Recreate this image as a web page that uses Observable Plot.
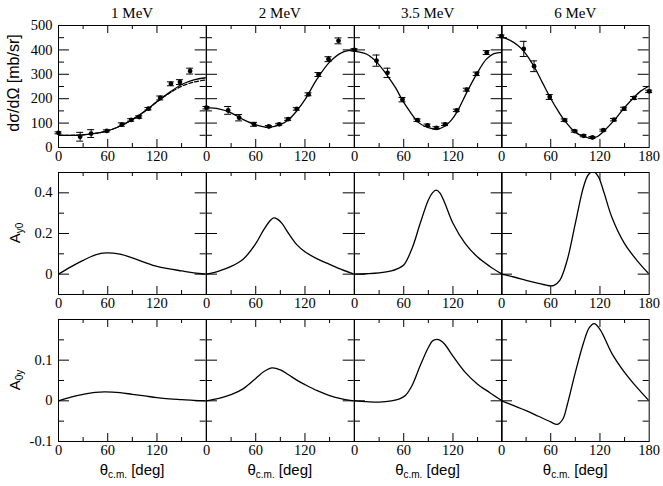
<!DOCTYPE html>
<html>
<head>
<meta charset="utf-8">
<script src="https://cdn.jsdelivr.net/npm/d3@7"></script>
<script src="https://cdn.jsdelivr.net/npm/@observablehq/plot@0.6"></script>
<style>
  html, body { margin: 0; padding: 0; background: white; }
  #chart { position: relative; width: 663px; height: 486px; background: white; overflow: hidden; }
  .lbl { position: absolute; white-space: nowrap; color: black; }
  .title { font-family: "Liberation Serif", serif; font-size: 15px; transform: translate(-50%, -50%); }
  .ylab { font-family: "Liberation Sans", sans-serif; font-size: 15px; transform: translate(-50%, -50%) rotate(-90deg); }
  .ylab.big { font-size: 16px; }
  .xlab { font-family: "Liberation Sans", sans-serif; font-size: 15px; transform: translate(-50%, -50%); }
  sub { font-size: 10px; vertical-align: -3px; line-height: 0; }
</style>
</head>
<body>
<div id="chart"></div>
<script>
// ---------- data ----------
const energies = ["1 MeV", "2 MeV", "3.5 MeV", "6 MeV"];
const rowLabels = ["dσ/dΩ [mb/sr]", "A<sub>y0</sub>", "A<sub>0y</sub>"];
const xLabel = "θ<sub>c.m.</sub> [deg]";

// y domains and ticks per row
const rowDomains = [[0, 500], [-0.1, 0.5], [-0.1, 0.2]];
const rowTickLabels = [[0, 100, 200, 300, 400, 500], [0, 0.2, 0.4], [-0.1, 0, 0.1]];
const rowMajorTicks = [[100, 200, 300, 400], [0, 0.2, 0.4], [0, 0.1]];
const rowMinorTicks = [[50, 150, 250, 350, 450], [0.1, 0.3], [-0.05, 0.05, 0.15]];
const xMajorTicks = [60, 120];
const xMinorTicks = [30, 90, 150];
const xTickLabels = [0, 60, 120];
const xTickLabelsLast = [0, 60, 120, 180];

// measured cross sections: angle, value, error
const xsAngles = [
  [0, 26.4, 39.8, 58.9, 77.2, 88.6, 98.4, 109.7, 124, 137, 148, 160.4],
  [0, 26.4, 39.8, 58, 76, 88.6, 99.5, 110, 124.3, 136.5, 148.7, 160.9],
  [0, 26.8, 40.2, 58.5, 76.8, 89, 99.9, 110.4, 124.7, 136.9, 149, 161.2],
  [0, 27.1, 39.7, 58.8, 77, 89.3, 100.2, 110.8, 124.2, 137.2, 149.4, 161.6, 180]
];
const xsValues = [
  [60, 44, 57, 68, 94, 113, 125, 159, 203, 261, 268, 313],
  [163, 152, 122, 95, 86, 95, 116, 158, 218, 299, 362, 437],
  [400, 356, 306, 196, 112, 91, 80, 95, 152, 237, 302, 389],
  [456, 404, 333, 207, 112, 67, 48, 41, 71, 114, 159, 203, 230]
];
const xsErrors = [
  [4, 18, 16, 4, 7, 5, 5, 5, 8, 8, 10, 12],
  [5, 16, 13, 8, 4, 4, 5, 5, 6, 8, 10, 12],
  [5, 23, 19, 9, 5, 5, 5, 5, 5, 6, 7, 8],
  [5, 31, 22, 10, 5, 4, 4, 4, 4, 5, 6, 6, 5]
];

// calculated cross sections (solid)
const xsCurves = [
  [[0,50],[15,50],[30,52],[45,58],[60,68],[75,88],[90,114],[105,148],[120,188],[135,225],[150,258],[165,277],[180,286]],
  [[0,163],[15,158],[30,142],[45,114],[60,93],[75,83],[90,94],[100,114],[110,150],[120,196],[135,282],[150,350],[165,389],[180,400]],
  [[0,395],[15,382],[27,350],[40,295],[50,245],[58.5,193],[68,145],[77,105],[89,82],[100,75],[110,87],[118,112],[125,146],[137,227],[149,302],[161,363],[170,385],[180,390]],
  [[0,452],[10,440],[20,418],[27,395],[40,330],[50,265],[59,207],[68,155],[77,110],[89,65],[100,45],[110,38],[117,45],[124,65],[137,110],[149,160],[162,207],[170,232],[180,252]]
];
// second calculation (dashed), 1 MeV
const xsDashed1 = [[0,50],[15,50],[30,52],[45,58],[60,68],[75,88],[90,114],[105,148],[120,187],[135,222],[150,251],[165,268],[180,277]];

// analysing powers Ay0
const ay0Curves = [
  [[0,0],[15,0.036],[30,0.068],[45,0.095],[58,0.105],[75,0.098],[90,0.08],[105,0.058],[120,0.038],[135,0.026],[150,0.016],[165,0.006],[180,0]],
  [[0,0],[15,0.015],[30,0.038],[45,0.075],[60,0.15],[70,0.22],[78,0.265],[82,0.277],[86,0.272],[92,0.25],[100,0.2],[110,0.145],[120,0.11],[135,0.075],[150,0.048],[165,0.022],[180,0]],
  [[0,0],[15,0.002],[30,0.006],[45,0.016],[52,0.026],[60,0.045],[70,0.125],[80,0.249],[90,0.365],[95,0.4],[99.5,0.413],[104,0.4],[110,0.35],[120,0.25],[135,0.15],[150,0.084],[165,0.038],[180,0]],
  [[0,0],[15,-0.014],[30,-0.03],[45,-0.045],[58,-0.057],[64,-0.055],[71,-0.031],[80,0.068],[90,0.25],[100,0.43],[106,0.49],[112,0.505],[118,0.48],[125,0.4],[134.5,0.28],[150,0.15],[165,0.068],[180,0]]
];

// analysing powers A0y
const a0yCurves = [
  [[0,0],[15,0.009],[30,0.016],[45,0.021],[57,0.022],[75,0.02],[90,0.016],[105,0.012],[120,0.008],[135,0.005],[150,0.003],[165,0.001],[180,0]],
  [[0,0],[15,0.006],[30,0.015],[45,0.03],[60,0.055],[70,0.072],[80,0.081],[90,0.076],[100,0.064],[110,0.051],[120,0.04],[135,0.025],[150,0.013],[165,0.005],[180,0]],
  [[0,0],[15,-0.002],[30,-0.003],[45,0],[55,0.005],[62,0.013],[70,0.037],[80,0.086],[90,0.131],[95,0.147],[100,0.151],[105,0.148],[110,0.139],[120,0.11],[135,0.07],[150,0.041],[165,0.02],[180,0]],
  [[0,0],[15,-0.012],[30,-0.024],[45,-0.038],[60,-0.052],[68,-0.058],[75,-0.044],[80,-0.011],[90,0.07],[100,0.143],[107,0.18],[113,0.19],[120,0.176],[135,0.115],[150,0.07],[165,0.033],[180,0]]
];

// ---------- layout ----------
const chart = document.getElementById("chart");
const PX0 = 58.3, PW = 147.7, PH = 122;
const rowTops = [25, 172.3, 319];
const ML = 45, MR = 25, MT = 10, MB = 25;

function panel(r, c) {
  const marks = [];
  const curveSets = [xsCurves, ay0Curves, a0yCurves][r];
  if (r === 0 && c === 0) {
    marks.push(Plot.line(xsDashed1, {x: d => d[0], y: d => d[1], curve: "catmull-rom", stroke: "black", strokeWidth: 1.2, strokeDasharray: "4,2"}));
  }
  marks.push(Plot.line(curveSets[c], {x: d => d[0], y: d => d[1], curve: "catmull-rom", stroke: "black", strokeWidth: 1.3, clip: true}));
  if (r === 0) {
    const pts = xsAngles[c].map((a, i) => ({a, v: xsValues[c][i], e: xsErrors[c][i]}));
    marks.push(Plot.ruleX(pts, {x: "a", y1: d => d.v - d.e, y2: d => d.v + d.e, stroke: "black", strokeWidth: 1}));
    marks.push(Plot.ruleY(pts, {x1: "a", x2: "a", y: d => d.v - d.e, insetLeft: -3.5, insetRight: -3.5, stroke: "black", strokeWidth: 1}));
    marks.push(Plot.ruleY(pts, {x1: "a", x2: "a", y: d => d.v + d.e, insetLeft: -3.5, insetRight: -3.5, stroke: "black", strokeWidth: 1}));
    marks.push(Plot.dot(pts, {x: "a", y: "v", r: 2.4, fill: "black", stroke: null}));
  }
  // inward tick marks
  marks.push(Plot.tickX(xMajorTicks, {x: d => d, insetTop: PH - 8, stroke: "black"}));
  marks.push(Plot.tickX(xMajorTicks, {x: d => d, insetBottom: PH - 8, stroke: "black"}));
  marks.push(Plot.tickX(xMinorTicks, {x: d => d, insetTop: PH - 4, stroke: "black"}));
  marks.push(Plot.tickX(xMinorTicks, {x: d => d, insetBottom: PH - 4, stroke: "black"}));
  marks.push(Plot.tickY(rowMajorTicks[r], {y: d => d, insetRight: PW - 11, stroke: "black"}));
  marks.push(Plot.tickY(rowMajorTicks[r], {y: d => d, insetLeft: PW - 11, stroke: "black"}));
  marks.push(Plot.tickY(rowMinorTicks[r], {y: d => d, insetRight: PW - 6, stroke: "black"}));
  marks.push(Plot.tickY(rowMinorTicks[r], {y: d => d, insetLeft: PW - 6, stroke: "black"}));
  marks.push(Plot.frame({stroke: "black", strokeWidth: 1}));
  // tick labels
  marks.push(Plot.axisX(c === 3 ? xTickLabelsLast : xTickLabels, {anchor: "bottom", tickSize: 0, tickPadding: 3, label: null, fontSize: 14.5, tickFormat: d => String(d)}));
  if (c === 0) {
    marks.push(Plot.axisY(rowTickLabels[r], {anchor: "left", tickSize: 0, tickPadding: 6, label: null, fontSize: 14.5, tickFormat: d => String(d)}));
  }
  const svg = Plot.plot({
    width: PW + ML + MR,
    height: PH + MT + MB,
    marginLeft: ML, marginRight: MR, marginTop: MT, marginBottom: MB,
    x: {domain: [0, 180], axis: null},
    y: {domain: rowDomains[r], axis: null},
    style: {background: "transparent", overflow: "visible", fontFamily: "Liberation Serif, serif", fontSize: "14px", color: "black"},
    marks
  });
  svg.style.position = "absolute";
  svg.style.left = (PX0 + c * PW - ML) + "px";
  svg.style.top = (rowTops[r] - MT) + "px";
  svg.style.overflow = "visible";
  svg.style.maxWidth = "none";
  chart.appendChild(svg);
}

for (let r = 0; r < 3; r++) for (let c = 0; c < 4; c++) panel(r, c);

// titles
energies.forEach((e, c) => {
  const d = document.createElement("div");
  d.className = "lbl title";
  d.textContent = e;
  d.style.left = (PX0 + (c + 0.5) * PW) + "px";
  d.style.top = "13px";
  chart.appendChild(d);
});
// y labels
rowLabels.forEach((t, r) => {
  const d = document.createElement("div");
  d.className = "lbl ylab" + (r === 0 ? " big" : "");
  d.innerHTML = t;
  d.style.left = "14px";
  d.style.top = (r === 0 ? 83 : rowTops[r] + PH / 2) + "px";
  chart.appendChild(d);
});
// x labels
energies.forEach((e, c) => {
  const d = document.createElement("div");
  d.className = "lbl xlab";
  d.innerHTML = xLabel;
  d.style.left = (PX0 + (c + 0.5) * PW) + "px";
  d.style.top = "469px";
  chart.appendChild(d);
});
</script>
</body>
</html>
